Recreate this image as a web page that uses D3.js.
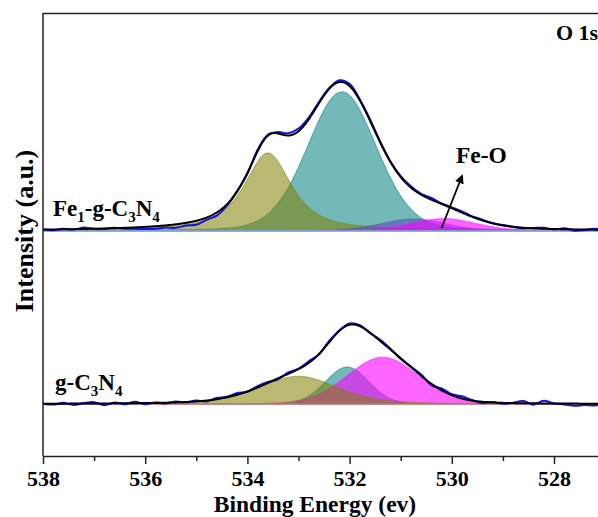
<!DOCTYPE html>
<html>
<head>
<meta charset="utf-8">
<script src="https://cdn.jsdelivr.net/npm/d3@7"></script>
<style>
  body { margin: 0; background: #fff; }
</style>
</head>
<body>
<div id="canvas"></div>
<script>
// DATA
// x ticks (binding energy, eV)
const xTicks = [538, 536, 534, 532, 530, 528];
const xMinorTicks = [537, 535, 533, 531, 529, 527];

// vertical offsets (a.u.) of the two stacked spectra
const feOffset = 50.8;
const gOffset = 11.7;

// fitted components, Fe1-g-C3N4
const fePeakNames   = ["C=O / O-H", "C-O", "N-C-O", "Fe-O"];
const fePeakCenters = [533.6, 532.15, 530.75, 530.15];
const fePeakHeights = [17.6, 31.4, 2.7, 2.8];
const fePeakFwhm    = [1.1, 1.6, 1.5, 1.5];
const fePeakMix     = [0.8, 0.15, 0.2, 0.3];

// fitted components, g-C3N4
const gPeakNames   = ["C-O", "N-C-O", "O-H"];
const gPeakCenters = [532.05, 531.35, 533.0];
const gPeakHeights = [8.4, 10.6, 6.3];
const gPeakFwhm    = [1.0, 1.65, 1.8];
const gPeakMix     = [0.1, 0.1, 0.4];

// raw-data deviation from the fit envelope, every 0.2 eV from 538 to 527
const feResidual = [0, -0.2, 0.1, -0.1, 0.3, 0, -0.1, 0.1, -0.2, -0.3,
  -0.5, -0.6, -0.5, -0.8, -0.6, -0.9, -0.5, -0.7, -0.3, 0.1,
  -0.2, 0.3, 0.2, 0.3, 0.5, 0.6, 0.4, 0.3, 0.2, 0.4,
  0.5, 0.2, 0.3, 0.2, 0.1, 0.2, 0.3, 0.2, 0.4, 0.1,
  0.2, 0.3, 0.1, 0.2, 0, 0.1, 0, -0.1, 0.1, 0.2,
  -0.1, 0.2, -0.3, -0.1, 0.2, -0.2];
const gResidual = [0, -0.2, 0.2, -0.3, 0.1, 0.3, -0.4, 0.2, -0.2, 0.3,
  -0.3, 0.1, -0.2, 0.2, -0.1, 0.2, -0.2, 0.3, 0.1, 0.4,
  -0.1, 0.3, 0.2, -0.2, 0.3, 0.1, 0.4, -0.1, 0.3, 0.1,
  0.3, 0.2, -0.1, 0.3, 0.2, -0.2, 0.1, 0.3, -0.3, 0.4,
  0.2, 0.5, 0.1, -0.3, 0.1, -0.2, 0.1, 0.5, -0.3, 0.6,
  0, -0.2, -0.5, -0.3, -0.4, 0.1];

const serif = "'Liberation Serif', 'DejaVu Serif', serif";

function drawGraph() {

  // DIMENSIONS
  const width = 598;
  const height = 517;
  const margin = { top: 13, left: 43, bottom: 61 };
  const plot_bottom = height - margin.bottom;

  const canvas = d3.select('#canvas')
    .append('svg')
    .attr('width', width)
    .attr('height', height);

  // SCALES
  const scaleX = d3.scaleLinear().domain([538, 527]).range([margin.left, margin.left + 11 * 51.1]);
  const scaleY = d3.scaleLinear().domain([0, 100]).range([plot_bottom, margin.top]);

  canvas.append('defs').append('clipPath').attr('id', 'clip')
    .append('rect')
    .attr('x', margin.left).attr('y', margin.top)
    .attr('width', width - margin.left).attr('height', plot_bottom - margin.top);

  const plot = canvas.append('g').attr('clip-path', 'url(#clip)');

  // pseudo-Voigt line shape of one fitted component
  const pv = (e, c, h, f, m) => {
    const u = (e - c) / f;
    return h * (m / (1 + 4 * u * u) + (1 - m) * Math.exp(-4 * Math.LN2 * u * u));
  };

  const fineE = d3.range(538, 526.99, -0.02);
  const rawE = d3.range(0, 56).map(i => 538 - 0.2 * i);

  function spectrum(offset, centers, heights, fwhm, mix, colors, order, residual, baseColor) {
    const comp = (i, e) => pv(e, centers[i], heights[i], fwhm[i], mix[i]);
    const envelope = e => d3.sum(centers, (c, i) => comp(i, e));

    const area = d3.area()
      .x(d => scaleX(d[0]))
      .y0(scaleY(offset))
      .y1(d => scaleY(offset + d[1]));

    order.forEach(i => {
      plot.append('path')
        .datum(fineE.map(e => [e, comp(i, e)]))
        .attr('d', area)
        .attr('fill', colors[i][0])
        .attr('fill-opacity', colors[i][1])
        .attr('stroke', colors[i][0])
        .attr('stroke-opacity', 0.45)
        .attr('stroke-width', 1.2);
    });

    // baseline
    plot.append('line')
      .attr('x1', margin.left).attr('x2', width)
      .attr('y1', scaleY(offset)).attr('y2', scaleY(offset))
      .attr('stroke', baseColor)
      .attr('stroke-width', 1.5);

    const line = d3.line()
      .x(d => scaleX(d[0]))
      .y(d => scaleY(offset + d[1]));

    // raw data
    plot.append('path')
      .datum(rawE.map((e, i) => [e, envelope(e) + residual[i]]))
      .attr('d', line.curve(d3.curveCatmullRom))
      .attr('fill', 'none')
      .attr('stroke', '#1414e6')
      .attr('stroke-width', 2);

    // fit envelope
    plot.append('path')
      .datum(fineE.map(e => [e, envelope(e)]))
      .attr('d', line.curve(d3.curveLinear))
      .attr('fill', 'none')
      .attr('stroke', '#000')
      .attr('stroke-width', 2);
  }

  spectrum(feOffset, fePeakCenters, fePeakHeights, fePeakFwhm, fePeakMix,
    [['#808000', 0.55], ['#008080', 0.55], ['#5a46c8', 0.55], ['#ff00ff', 0.6]],
    [1, 0, 2, 3], feResidual, '#70c4d4');

  spectrum(gOffset, gPeakCenters, gPeakHeights, gPeakFwhm, gPeakMix,
    [['#008080', 0.55], ['#ff00ff', 0.6], ['#808000', 0.55]],
    [0, 1, 2], gResidual, '#c08a8a');

  // FRAME
  canvas.append('line')
    .attr('x1', margin.left).attr('x2', width)
    .attr('y1', margin.top + 0.5).attr('y2', margin.top + 0.5)
    .attr('stroke', '#222').attr('stroke-width', 1.5);
  canvas.append('line')
    .attr('x1', margin.left).attr('x2', margin.left)
    .attr('y1', margin.top).attr('y2', plot_bottom)
    .attr('stroke', '#222').attr('stroke-width', 1.5);

  // AXES
  const xaxis = canvas.append('g')
    .attr('transform', `translate(0, ${plot_bottom})`)
    .call(d3.axisBottom(scaleX).tickValues(xTicks).tickFormat(d3.format('d')).tickSize(8).tickSizeOuter(0).tickPadding(6));
  xaxis.select('.domain').attr('stroke', '#222').attr('stroke-width', 1.5);
  xaxis.selectAll('.tick line').attr('stroke', '#222').attr('stroke-width', 1.5);
  xaxis.selectAll('text')
    .attr('fill', '#000')
    .style('font-family', serif)
    .style('font-weight', '700')
    .style('font-size', '22px');

  canvas.append('g')
    .attr('transform', `translate(0, ${plot_bottom})`)
    .call(d3.axisBottom(scaleX).tickValues(xMinorTicks).tickFormat('').tickSize(5).tickSizeOuter(0))
    .call(g => g.select('.domain').remove())
    .selectAll('.tick line').attr('stroke', '#222').attr('stroke-width', 1.5);

  // LABELS
  const label = (sel, size) => sel
    .style('font-family', serif)
    .style('font-weight', '700')
    .style('font-size', size + 'px');

  canvas.append('text')
    .attr('x', 315).attr('y', 512)
    .attr('text-anchor', 'middle')
    .call(label, 23.5)
    .text('Binding Energy (ev)');

  canvas.append('text')
    .attr('transform', 'translate(33, 231) rotate(-90)')
    .attr('text-anchor', 'middle')
    .call(label, 26)
    .text('Intensity (a.u.)');

  canvas.append('text')
    .attr('x', 556).attr('y', 40)
    .call(label, 22)
    .text('O 1s');

  function formula(x, y, parts) {
    const t = canvas.append('text').attr('x', x).attr('y', y).call(label, 23);
    let shift = 0;
    parts.forEach(p => {
      const dy = (p.sub ? 6 : 0) - shift;
      shift = p.sub ? 6 : 0;
      t.append('tspan')
        .attr('dy', dy)
        .style('font-size', p.sub ? '15px' : '23px')
        .text(p.s);
    });
  }
  formula(53, 216, [{ s: 'Fe' }, { s: '1', sub: true }, { s: '-g-C' }, { s: '3', sub: true }, { s: 'N' }, { s: '4', sub: true }]);
  formula(55, 390, [{ s: 'g-C' }, { s: '3', sub: true }, { s: 'N' }, { s: '4', sub: true }]);

  canvas.append('text')
    .attr('x', 456).attr('y', 163)
    .call(label, 23.5)
    .text('Fe-O');

  // arrow to the Fe-O component
  canvas.append('defs').append('marker')
    .attr('id', 'head').attr('viewBox', '0 0 10 10')
    .attr('refX', 8).attr('refY', 5)
    .attr('markerWidth', 5).attr('markerHeight', 5)
    .attr('orient', 'auto')
    .append('path').attr('d', 'M0,0 L10,5 L0,10 z').attr('fill', '#000');
  canvas.append('line')
    .attr('x1', scaleX(530.2)).attr('y1', 228)
    .attr('x2', scaleX(529.8)).attr('y2', 176)
    .attr('stroke', '#000').attr('stroke-width', 1.8)
    .attr('marker-end', 'url(#head)');
}

drawGraph();
</script>
</body>
</html>
